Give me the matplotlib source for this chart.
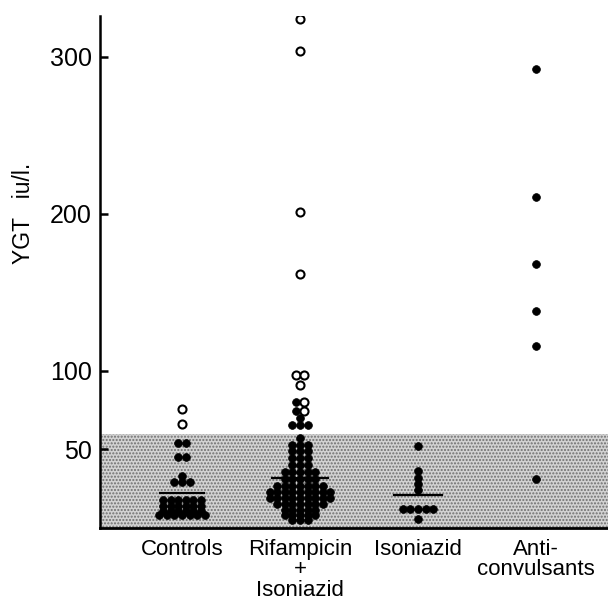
import numpy as np
import matplotlib.pyplot as plt

plt.rcParams['font.family'] = ['Liberation Sans', 'DejaVu Sans']

# ---- data (YGT, iu/l) ----
groups = ['Controls', 'Rifampicin\n+\nIsoniazid', 'Isoniazid', 'Anti-\nconvulsants']

controls_filled = [54, 54, 45, 45, 33, 29, 29, 29,
                   18, 18, 18, 18, 18, 18,
                   14, 14, 14, 14, 14, 14,
                   11, 11, 11, 11, 11, 11,
                   8, 8, 8, 8, 8, 8, 8]
controls_open = [76, 66]

rif_filled = [80, 74.5, 70, 65.5, 65.5, 65.5,
              57.5, 53, 53, 53, 49, 49, 49, 44.5, 44.5, 44.5, 40, 40, 40,
              35.5, 35.5, 35.5, 35.5, 35.5,
              31, 31, 31, 31, 31,
              27, 27, 27, 27, 27, 27, 27,
              23, 23, 23, 23, 23, 23, 23, 23, 23,
              19, 19, 19, 19, 19, 19, 19, 19, 19,
              15, 15, 15, 15, 15, 15, 15,
              11.5, 11.5, 11.5, 11.5, 11.5,
              8, 8, 8, 8, 8,
              5, 5, 5]
rif_open = [324, 304, 201, 162, 97.5, 97.5, 91, 80, 74.5]

iso_filled = [52, 36, 32, 28, 24, 12, 12, 12, 12, 12, 6]
iso_open = []

anti_filled = [292, 211, 168, 138, 116, 31]
anti_open = []

medians = [22, 32, 21, None]

normal_range = (0, 60)
yticks = [50, 100, 200, 300]

filled_sets = [controls_filled, rif_filled, iso_filled, anti_filled]
open_sets = [controls_open, rif_open, iso_open, anti_open]

DX = 0.064          # horizontal spacing of dots in a row (x units)
MED_HALF = [0.19, 0.24, 0.20, 0]


def spread(center, filled, opened):
    """Place dots of equal value side by side, centred on the group."""
    pts = [(v, 'f') for v in filled] + [(v, 'o') for v in opened]
    out = {'f': ([], []), 'o': ([], [])}
    for v in sorted(set(p[0] for p in pts)):
        row = [k for val, k in pts if val == v]
        n = len(row)
        for i, k in enumerate(row):
            out[k][0].append(center + (i - (n - 1) / 2) * DX)
            out[k][1].append(v)
    return out


fig = plt.figure(figsize=(6.08, 6.01), dpi=100)
ax = fig.add_axes([100 / 608, 1 - 528 / 601, 508 / 608, 512 / 601])

ax.axhspan(*normal_range, facecolor='#d2d2d2', edgecolor='#6e6e6e',
           hatch='.....', linewidth=0, zorder=0)

positions = np.arange(1, len(groups) + 1)
for pos, f, o, med, half in zip(positions, filled_sets, open_sets, medians, MED_HALF):
    pts = spread(pos, f, o)
    ax.plot(pts['f'][0], pts['f'][1], 'o', color='black', ms=5.6,
            mec='black', mew=0.5, zorder=3)
    if pts['o'][0]:
        ax.plot(pts['o'][0], pts['o'][1], 'o', mfc='white', mec='black',
                ms=5.8, mew=1.5, zorder=3)
    if med is not None:
        ax.plot([pos - half, pos + half], [med, med], color='black', lw=1.6, zorder=4)

ax.set_xlim(0.305, 4.61)
ax.set_ylim(0, 326)

ax.spines['top'].set_visible(False)
ax.spines['right'].set_visible(False)
ax.spines['left'].set_linewidth(1.8)
ax.spines['bottom'].set_linewidth(2.0)

ax.set_yticks(yticks)
ax.set_yticklabels([str(t) for t in yticks], fontsize=18)
ax.tick_params(axis='y', direction='in', length=6, width=1.8, pad=6)

ax.set_xticks(positions)
ax.set_xticklabels(groups, fontsize=16, linespacing=0.95)
ax.tick_params(axis='x', length=0, pad=8)

ax.set_ylabel('YGT   iu/l.', fontsize=16.5)
ax.yaxis.set_label_coords(-0.127, 0.614)

fig.savefig('out.png', dpi=100)
